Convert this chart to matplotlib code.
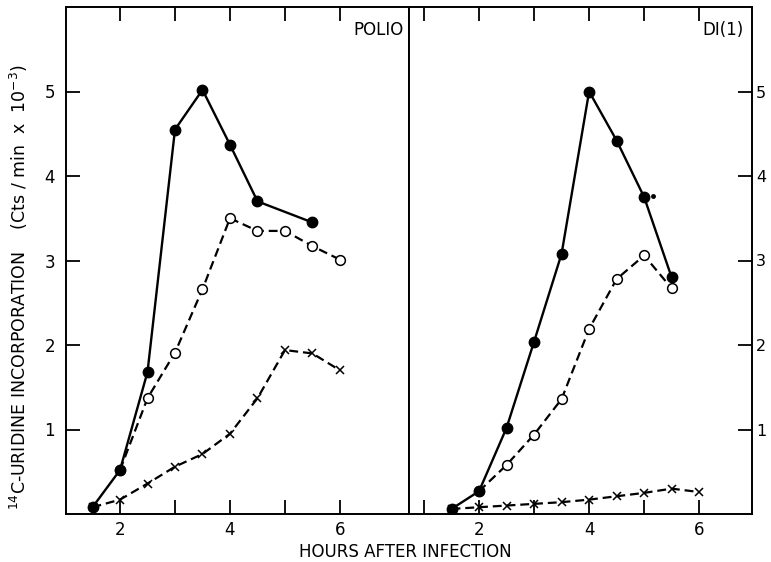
import matplotlib.pyplot as plt
from matplotlib.ticker import FixedLocator, NullFormatter

plt.rcParams['font.family'] = ['DejaVu Sans']

# POLIO panel
polio_fill_x = [1.5, 2, 2.5, 3, 3.5, 4, 4.5, 5.5]
polio_fill_y = [0.08, 0.52, 1.68, 4.55, 5.02, 4.37, 3.70, 3.45]
polio_open_x = [2, 2.5, 3, 3.5, 4, 4.5, 5, 5.5, 6]
polio_open_y = [0.52, 1.37, 1.91, 2.66, 3.50, 3.35, 3.35, 3.17, 3.01]
polio_cross_x = [1.5, 2, 2.5, 3, 3.5, 4, 4.5, 5, 5.5, 6]
polio_cross_y = [0.08, 0.17, 0.36, 0.56, 0.71, 0.95, 1.37, 1.94, 1.90, 1.70]

# DI(1) panel
di_fill_x = [1.5, 2, 2.5, 3, 3.5, 4, 4.5, 5, 5.5]
di_fill_y = [0.06, 0.27, 1.02, 2.04, 3.08, 5.00, 4.42, 3.75, 2.80]
di_open_x = [2, 2.5, 3, 3.5, 4, 4.5, 5, 5.5]
di_open_y = [0.27, 0.58, 0.94, 1.36, 2.19, 2.78, 3.06, 2.67]
di_cross_x = [1.5, 2, 2.5, 3, 3.5, 4, 4.5, 5, 5.5, 6]
di_cross_y = [0.06, 0.08, 0.10, 0.12, 0.14, 0.17, 0.21, 0.25, 0.30, 0.26]
di_stray_x = [5.16]
di_stray_y = [3.76]

fig = plt.figure(figsize=(7.71, 5.62), dpi=100)
W, H = 771, 562
bottom = (H - 514) / H
height = (514 - 7) / H
ax1 = fig.add_axes([66 / W, bottom, 343 / W, height])
ax2 = fig.add_axes([409 / W, bottom, 343 / W, height])


def draw(ax, fx, fy, ox, oy, cx, cy):
    ax.plot(cx, cy, color='black', lw=1.6, ls=(0, (4, 2.2)), marker='x',
            ms=6, mew=1.1, zorder=2)
    ax.plot(ox, oy, color='black', lw=1.6, ls=(0, (4, 2.2)), marker='o',
            ms=7, mfc='white', mec='black', mew=1.1, zorder=3)
    ax.plot(fx, fy, color='black', lw=1.7, ls='-', marker='o', ms=7.5,
            mfc='black', mec='black', zorder=4)


draw(ax1, polio_fill_x, polio_fill_y, polio_open_x, polio_open_y,
     polio_cross_x, polio_cross_y)
draw(ax2, di_fill_x, di_fill_y, di_open_x, di_open_y, di_cross_x, di_cross_y)
ax2.plot(di_stray_x, di_stray_y, 'o', color='black', ms=2.5)

ax1.set_xlim(1.018, 7.255)
ax2.set_xlim(0.727, 6.96)
for ax in (ax1, ax2):
    ax.set_ylim(0, 6)
    ax.xaxis.set_major_locator(FixedLocator([2, 4, 6]))
    for s in ax.spines.values():
        s.set_linewidth(1.4)
    ax.tick_params(which='both', direction='in', length=10, width=1.3,
                   top=True, labelsize=12)
    ax.tick_params(axis='x', pad=5)
ax1.xaxis.set_minor_locator(FixedLocator([3, 5]))
ax2.xaxis.set_minor_locator(FixedLocator([1, 3, 5]))
ax1.xaxis.set_minor_formatter(NullFormatter())
ax2.xaxis.set_minor_formatter(NullFormatter())

ax1.yaxis.set_major_locator(FixedLocator([1, 2, 3, 4, 5]))
ax1.tick_params(axis='y', left=True, right=False, pad=8)
ax2.yaxis.set_major_locator(FixedLocator([1, 2, 3, 4, 5]))
ax2.yaxis.tick_right()
ax2.tick_params(axis='y', left=False, right=True, labelright=True,
                labelleft=False, pad=3, labelsize=11.5)

ax1.text(0.985, 0.955, 'POLIO', transform=ax1.transAxes, ha='right',
         va='center', fontsize=12)
ax2.text(0.975, 0.955, 'DI(1)', transform=ax2.transAxes, ha='right',
         va='center', fontsize=12)

fig.text(19 / W, 1 - 287 / H,
         '$^{14}$C-URIDINE INCORPORATION    (Cts / min  x  10$^{-3}$)',
         rotation=90, ha='center', va='center', fontsize=12.5)
fig.text(405 / W, 1 - 552 / H, 'HOURS AFTER INFECTION', ha='center',
         va='center', fontsize=12)

fig.savefig('out.png', dpi=100)
